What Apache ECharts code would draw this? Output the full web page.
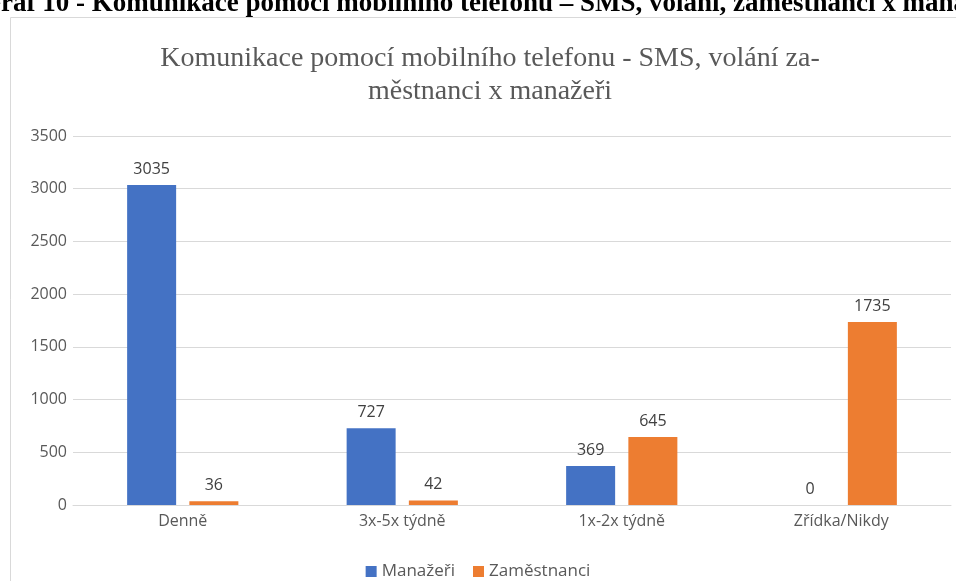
<!DOCTYPE html>
<html>
<head>
<meta charset="utf-8">
<script src="https://cdn.jsdelivr.net/npm/echarts@6/dist/echarts.min.js"></script>
<style>
  html, body { margin: 0; padding: 0; background: #fff; }
  #chart { width: 956px; height: 581px; }
</style>
</head>
<body>
<div id="chart"></div>
<script>
const categories = ['Denně', '3x-5x týdně', '1x-2x týdně', 'Zřídka/Nikdy']
const managers = [3035, 727, 369, 0]
const employees = [36, 42, 645, 1735]
const seriesNames = ['Manažeři', 'Zaměstnanci']
const yTicks = [0, 500, 1000, 1500, 2000, 2500, 3000, 3500]

const chart = echarts.init(document.getElementById('chart'))

const labelStyle = {
  show: true,
  position: 'top',
  distance: 8,
  color: '#404040',
  fontSize: 16,
  fontFamily: 'Open Sans, Noto Sans, sans-serif',
}

chart.setOption({
  animation: false,
  graphic: [
    {
      // rámeček grafu v dokumentu
      type: 'rect',
      shape: { x: 10.5, y: 17.5, width: 1000, height: 700 },
      style: { fill: 'none', stroke: '#d9d9d9', lineWidth: 1 },
      silent: true,
    },
    {
      // oříznutý popisek nad grafem
      type: 'text',
      left: -20,
      top: -9,
      style: {
        text: 'Graf 10 - Komunikace pomocí mobilního telefonu – SMS, volání, zaměstnanci x manažeři',
        font: 'bold 27px "Liberation Serif", serif',
        fill: '#000',
      },
      silent: true,
    },
    {
      type: 'text',
      x: 490,
      y: 42,
      style: {
        text: 'Komunikace pomocí mobilního telefonu - SMS, volání za-\nměstnanci x manažeři',
        font: '28px "Liberation Serif", serif',
        fill: '#595959',
        align: 'center',
        lineHeight: 33,
      },
      silent: true,
    },
  ],
  legend: {
    data: seriesNames,
    top: 558,
    left: 'center',
    itemWidth: 11,
    itemHeight: 11,
    itemGap: 18,
    icon: 'rect',
    textStyle: { color: '#595959', fontSize: 17, fontFamily: 'Open Sans, Noto Sans, sans-serif' },
  },
  grid: { left: 73, right: 5, top: 136, bottom: 76 },
  xAxis: {
    type: 'category',
    data: categories,
    axisLine: { lineStyle: { color: '#d9d9d9' } },
    axisTick: { show: false },
    axisLabel: { color: '#595959', fontSize: 16, margin: 8, fontFamily: 'Open Sans, Noto Sans, sans-serif' },
  },
  yAxis: {
    type: 'value',
    min: yTicks[0],
    max: yTicks[yTicks.length - 1],
    interval: 500,
    axisLine: { show: false },
    axisTick: { show: false },
    splitLine: { lineStyle: { color: '#d9d9d9' } },
    axisLabel: {
      color: '#595959',
      fontSize: 16,
      margin: 6,
      fontFamily: 'Open Sans, Noto Sans, sans-serif',
      formatter: (v) => String(v),
    },
  },
  series: [
    {
      name: seriesNames[0],
      type: 'bar',
      data: managers,
      barWidth: 49,
      barGap: '27%',
      itemStyle: { color: '#4472C4' },
      label: labelStyle,
    },
    {
      name: seriesNames[1],
      type: 'bar',
      data: employees,
      barWidth: 49,
      itemStyle: { color: '#ED7D31' },
      label: labelStyle,
    },
  ],
})
</script>
</body>
</html>
